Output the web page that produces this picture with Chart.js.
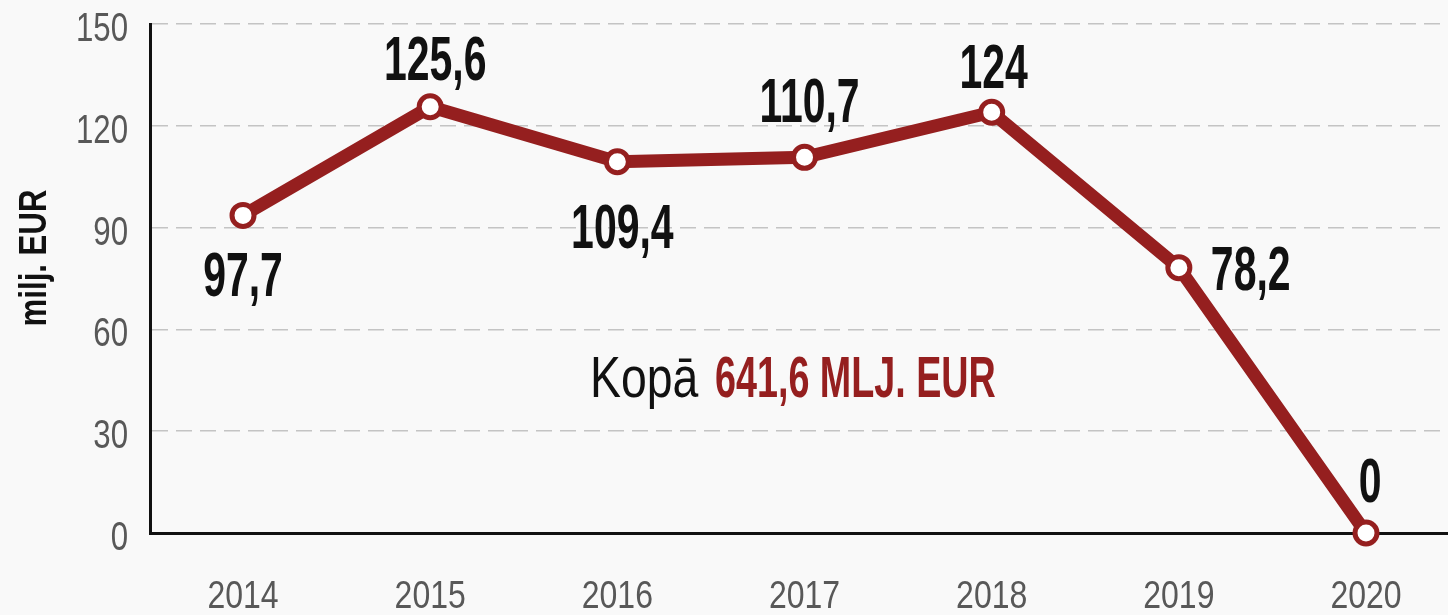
<!DOCTYPE html>
<html>
<head>
<meta charset="utf-8">
<script src="https://cdn.jsdelivr.net/npm/chart.js@4.4.1/dist/chart.umd.min.js"></script>
<style>
  html, body { margin: 0; padding: 0; background: #f9f9f9; overflow: hidden; }
  #wrap { width: 1448px; height: 615px; }
</style>
</head>
<body>
<div id="wrap"><canvas id="grafico"></canvas></div>
<script>
// dati
const gadi = [2014, 2015, 2016, 2017, 2018, 2019, 2020];
const vertibas = [93.6, 125.6, 109.4, 110.7, 124, 78.2, 0];          // where the points sit
const uzraksti = ["97,7", "125,6", "109,4", "110,7", "124", "78,2", "0"]; // printed labels
const yTicks = [0, 30, 60, 90, 120, 150];
const asuNosaukums = "milj. EUR";
const kopaTeksts = "Kopā";
const kopaSumma = "641,6 MLJ. EUR";

const sarkans = "#951f1f";
const fonts = '"Liberation Sans", Arial, sans-serif';

// label placement from each point: dx, dy to baseline, align
const nobides = [[0, 81, "center"], [5, -27, "center"], [5, 86, "center"], [5, -35, "center"],
                 [2, -24, "center"], [32, 22, "left"], [4, -31, "center"]];

// Arial squeezed sideways, to look like a narrow face
function saurs(c, txt, x, y, sx, align) {
    c.save();
    c.translate(x, y);
    c.scale(sx, 1);
    c.textAlign = align || "left";
    c.textBaseline = "alphabetic";
    c.fillText(txt, 0, 0);
    c.restore();
}

const fons = {
    id: "fons",
    beforeDraw(chart) {
        const c = chart.ctx;
        c.save();
        c.fillStyle = "#f9f9f9";
        c.fillRect(0, 0, chart.width, chart.height);
        c.restore();
    }
};

const asis = {
    id: "asis",
    afterDraw(chart) {
        const c = chart.ctx;
        const xs = chart.scales.x, ys = chart.scales.y;
        c.save();
        c.fillStyle = "#585858";
        c.font = "40px " + fonts;
        ys.ticks.forEach(t => {
            saurs(c, String(t.value), 128, ys.getPixelForValue(t.value) + 17, 0.78, "right");
        });
        c.font = "39px " + fonts;
        xs.ticks.forEach(t => {
            saurs(c, String(t.value), xs.getPixelForValue(t.value), 608, 0.82, "center");
        });

        // y title
        c.fillStyle = "#111";
        c.font = "bold 38px " + fonts;
        c.save();
        c.translate(46, 258);
        c.rotate(-Math.PI / 2);
        saurs(c, asuNosaukums, 0, 0, 0.82, "center");
        c.restore();
        c.restore();
    }
};

const uzrakstiPlugin = {
    id: "uzraksti",
    afterDatasetsDraw(chart) {
        const c = chart.ctx;
        const meta = chart.getDatasetMeta(0);
        c.save();
        c.fillStyle = "#111";
        c.font = "bold 63px " + fonts;
        meta.data.forEach((p, i) => {
            const o = nobides[i];
            saurs(c, uzraksti[i], p.x + o[0], p.y + o[1], 0.65, o[2]);
        });

        // kopā
        const x0 = 590, y0 = 397;
        c.font = "58px " + fonts;
        c.fillStyle = "#111";
        saurs(c, kopaTeksts, x0, y0, 0.8, "left");
        c.font = "bold 58px " + fonts;
        c.fillStyle = sarkans;
        saurs(c, kopaSumma, 715, y0, 0.65, "left");
        c.restore();
    }
};

new Chart(document.getElementById("grafico"), {
    type: "line",
    data: {
        datasets: [{
            data: gadi.map((g, i) => ({ x: g, y: vertibas[i] })),
            borderColor: sarkans,
            borderWidth: 13,
            pointRadius: 11,
            pointBorderWidth: 5,
            pointBackgroundColor: "#ffffff",
            pointBorderColor: sarkans,
            tension: 0,
            clip: false
        }]
    },
    options: {
        responsive: true,
        maintainAspectRatio: false,
        animation: false,
        layout: { autoPadding: false, padding: { top: 24, right: 0, left: 0, bottom: 0 } },
        plugins: { legend: { display: false }, tooltip: { enabled: false } },
        scales: {
            x: {
                type: "linear",
                min: 2013.503,
                max: 2020.438,
                afterFit: s => { s.height = 82; },
                afterBuildTicks: s => { s.ticks = gadi.map(v => ({ value: v })); },
                ticks: { display: false },
                grid: { display: false, drawTicks: false },
                border: { color: "#111", width: 3 }
            },
            y: {
                min: 0,
                max: 150,
                afterFit: s => { s.width = 150; },
                afterBuildTicks: s => { s.ticks = yTicks.map(v => ({ value: v })); },
                ticks: { display: false },
                grid: {
                    color: "#c4c4c4",
                    lineWidth: 1.5,
                    drawTicks: false
                },
                border: { color: "#111", width: 3, dash: [16, 8] }
            }
        }
    },
    plugins: [fons, asis, uzrakstiPlugin]
});
</script>
</body>
</html>
